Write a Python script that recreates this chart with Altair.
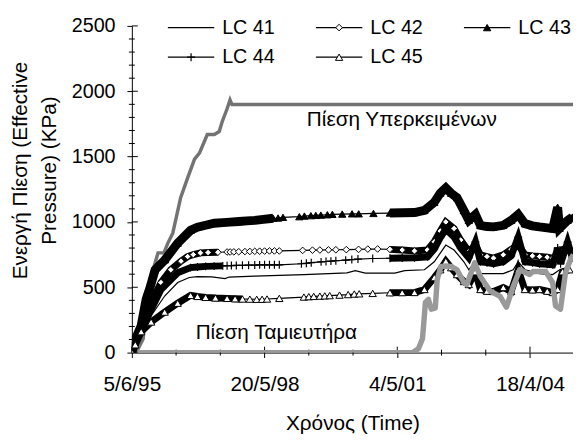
import altair as alt
import pandas as pd

FONT = "Liberation Sans"
W, H = 447, 331

# ---- axis ticks ----
x_tick_days = [0, 1080, 2160, 3240]
x_tick_labels = ["5/6/95", "20/5/98", "4/5/01", "18/4/04"]
x_minor_days = [360, 720, 1440, 1800, 2520, 2880]
y_ticks = [0, 500, 1000, 1500, 2000, 2500]
y_minor = [v for v in range(100, 2500, 100) if v % 500 != 0]

# ---- series (days since 5/6/95, KPa) ----
over_days = [36, 92, 132, 173, 213, 261, 293, 333, 397, 454, 510, 550, 614, 671, 711, 735, 775, 799, 815, 3600]
over_vals = [0, 106, 508, 634, 763, 763, 838, 914, 1186, 1337, 1480, 1526, 1669, 1669, 1692, 1767, 1866, 1934, 1898, 1898]

res_days = [50, 2240, 2285, 2332, 2365, 2381, 2389, 2413, 2437, 2469, 2485, 2515, 2598, 2646, 2702, 2726, 2790, 2836,
            2917, 2997, 3048, 3104, 3157, 3237, 3264, 3368, 3424, 3448, 3488, 3529, 3569, 3593]
res_vals = [0, 0, 0, 30, 106, 287, 385, 408, 332, 340, 559, 660, 660, 634, 536, 521, 687, 582,
            470, 430, 347, 508, 634, 597, 620, 620, 536, 357, 332, 612, 710, 750]

lc41_days = [0, 52, 157, 267, 373, 467, 534, 650, 759, 791, 1000, 1200, 1400, 1602, 1750, 1819, 1899, 2140, 2220, 2381,
             2461, 2555, 2622, 2702, 2742, 2796, 2836, 2943, 3023, 3103, 3144, 3200, 3318, 3425, 3481, 3562]
lc41_vals = [0, 68, 282, 433, 536, 575, 582, 580, 566, 578, 585, 591, 597, 604, 610, 627, 608, 608, 627, 634,
             695, 823, 785, 695, 634, 695, 604, 604, 604, 634, 695, 634, 604, 597, 634, 634]

lc42_days = [0, 52, 132, 237, 317, 400, 454, 500, 558, 620, 700, 775, 800, 830, 870, 920, 960, 1000, 1040, 1080, 1120,
             1160, 1200, 1390, 1470, 1530, 1600, 1660, 1745, 1845, 1920, 2000, 2100, 2200, 2300, 2405, 2461, 2510,
             2555, 2622, 2676, 2742, 2796, 2836, 2890, 2943, 3023, 3087, 3144, 3200, 3260, 3318, 3380, 3425, 3465,
             3479, 3559]
lc42_vals = [0, 144, 332, 536, 634, 700, 735, 750, 763, 766, 768, 770, 770, 771, 772, 773, 774, 775, 776, 777, 778,
             778, 778, 782, 784, 785, 786, 787, 788, 790, 792, 793, 790, 785, 778, 785, 848, 930,
             1000, 950, 861, 773, 823, 748, 735, 723, 748, 790, 823, 748, 740, 735, 730, 723, 740,
             785, 798]

lc43_days = [0, 28, 76, 116, 149, 189, 269, 373, 478, 534, 600, 671, 740, 799, 870, 935, 1000, 1070, 1150, 1190, 1230,
             1363, 1404, 1457, 1497, 1538, 1591, 1632, 1712, 1792, 1846, 1966, 2100, 2200, 2300, 2381, 2461, 2510,
             2555, 2598, 2646, 2702, 2742, 2796, 2836, 2890, 2943, 3023, 3087, 3144, 3198, 3260, 3318, 3380, 3425,
             3465, 3481, 3546, 3585]
lc43_vals = [0, 100, 206, 408, 500, 634, 710, 838, 936, 960, 975, 990, 995, 998, 1003, 1008, 1012, 1020, 1028, 1030, 1035,
             1040, 1045, 1048, 1050, 1052, 1055, 1058, 1060, 1062, 1062, 1065, 1068, 1070, 1072, 1088, 1150, 1220,
             1260, 1220, 1185, 1087, 1012, 1057, 974, 965, 962, 974, 1012, 1057, 987, 970, 962, 955, 949,
             1112, 952, 1012, 1037]

lc44_days = [0, 52, 132, 237, 373, 478, 534, 600, 670, 740, 775, 810, 850, 900, 950, 1000, 1040, 1080, 1120, 1160, 1200,
             1380, 1420, 1460, 1540, 1580, 1620, 1660, 1740, 1790, 1840, 1960, 2100, 2200, 2300, 2405, 2461, 2510,
             2555, 2622, 2676, 2742, 2796, 2836, 2890, 2943, 3023, 3087, 3144, 3200, 3260, 3318, 3380, 3425, 3465,
             3489, 3546, 3585]
lc44_vals = [0, 120, 282, 483, 611, 650, 655, 660, 662, 664, 665, 666, 667, 668, 669, 670, 671, 672, 672, 672, 672,
             680, 684, 688, 694, 697, 700, 703, 708, 712, 716, 720, 722, 724, 725, 733, 793, 880,
             944, 884, 800, 725, 848, 695, 688, 680, 695, 740, 884, 695, 688, 680, 676, 672, 800,
             680, 846, 725]

lc45_days = [0, 28, 76, 157, 267, 373, 478, 534, 600, 680, 775, 840, 900, 960, 1016, 1060, 1100, 1200, 1400, 1440, 1480,
             1530, 1570, 1610, 1690, 1760, 1810, 1850, 1960, 2100, 2200, 2300, 2381, 2461, 2510, 2555, 2598, 2646,
             2702, 2742, 2796, 2836, 2890, 2943, 3023, 3087, 3144, 3198, 3260, 3318, 3380, 3425, 3465, 3505, 3562]
lc45_vals = [0, 60, 160, 234, 310, 378, 438, 430, 423, 418, 415, 412, 410, 409, 408, 408, 410, 415, 425, 428, 430,
             432, 434, 436, 440, 444, 448, 450, 453, 458, 459, 460, 483, 574, 634, 700, 650, 597,
             544, 521, 619, 483, 470, 468, 498, 468, 634, 483, 480, 483, 470, 460, 483, 619, 634]

legend_names = ["LC 41", "LC 42", "LC 43", "LC 44", "LC 45"]
label_over = "Πίεση Υπερκειμένων"
label_res = "Πίεση Ταμιευτήρα"

# ---- helpers ----
def frame(days, vals):
    return pd.DataFrame({"day": days, "val": vals})

label_expr = "[" + ",".join("'%s'" % s for s in x_tick_labels) + "][indexof([" + \
    ",".join(str(d) for d in x_tick_days) + "], datum.value)]"

xscale = alt.Scale(domain=[0, 3590], nice=False, zero=False)
yscale = alt.Scale(domain=[0, 2500], nice=False)

x_axis = alt.Axis(values=x_tick_days, labelExpr=label_expr, title="Χρόνος (Time)", grid=False,
                  tickSize=5, tickColor="black", domainColor="black", labelColor="black", titleColor="black",
                  labelFont=FONT, titleFont=FONT, labelFontSize=21, titleFontSize=21, titleFontWeight="normal",
                  labelPadding=16, titleBaseline="alphabetic", titleY=77.5, labelFlush=False, labelOverlap=False)
y_axis = alt.Axis(values=y_ticks, format="d", title=["Ενεργή Πίεση (Effective", "Pressure) (KPa)"], grid=False,
                  tickSize=5, tickColor="black", domainColor="black", labelColor="black", titleColor="black",
                  labelFont=FONT, titleFont=FONT, labelFontSize=20, titleFontSize=21, titleFontWeight="normal",
                  labelPadding=12, titleLineHeight=30, titleX=-103, titleY=146, titleBaseline="bottom",
                  titleAlign="center", titleAngle=270, labelFlush=False)

X = alt.X("day:Q", scale=xscale, axis=x_axis)
Y = alt.Y("val:Q", scale=yscale, axis=y_axis)

layers = []

# tick marks crossing the axes
layers.append(alt.Chart(pd.DataFrame({"day": x_tick_days})).mark_rule(color="black").encode(
    x=X, y=alt.value(H - 6), y2=alt.value(H)))
layers.append(alt.Chart(pd.DataFrame({"day": x_minor_days})).mark_rule(color="black").encode(
    x=X, y=alt.value(H - 3), y2=alt.value(H + 3)))
layers.append(alt.Chart(pd.DataFrame({"val": y_ticks})).mark_rule(color="black").encode(
    y=Y, x=alt.value(0), x2=alt.value(6)))
layers.append(alt.Chart(pd.DataFrame({"val": y_minor})).mark_rule(color="black").encode(
    y=Y, x=alt.value(-3), x2=alt.value(3)))

# overburden pressure line
layers.append(alt.Chart(frame(over_days, over_vals)).mark_line(color="#737373", strokeWidth=3.5, clip=True).encode(x=X, y=Y))

PLUS = "M-1,0H1M0,-1V1"
series = [
    (frame(lc41_days, lc41_vals), 0, [], None),
    (frame(lc42_days, lc42_vals), 7, [(0, 760), (2100, 4000)],
     dict(shape="diamond", filled=True, fill="white", stroke="black", strokeWidth=1, size=45)),
    (frame(lc43_days, lc43_vals), 9, [(0, 1150), (2100, 4000)],
     dict(shape="triangle-up", filled=True, fill="black", stroke="black", strokeWidth=1, size=55)),
    (frame(lc44_days, lc44_vals), 7, [(0, 760), (2100, 4000)],
     dict(shape=PLUS, filled=False, stroke="black", strokeWidth=1.2, size=64)),
    (frame(lc45_days, lc45_vals), 7, [(0, 900), (2100, 4000)],
     dict(shape="triangle-up", filled=True, fill="white", stroke="black", strokeWidth=1, size=55)),
]

for df, bw, ranges, mk in series:
    base = alt.Chart(df)
    layers.append(base.mark_line(color="black", strokeWidth=1.2, clip=True).encode(x=X, y=Y))
    for a, b in ranges:
        layers.append(base.transform_filter((alt.datum.day >= a) & (alt.datum.day <= b))
                      .mark_line(color="black", strokeWidth=bw, clip=True).encode(x=X, y=Y))
    if mk:
        layers.append(base.mark_point(opacity=1, clip=True, **mk).encode(x=X, y=Y))

# reservoir pressure line (drawn over the load-cell series)
layers.append(alt.Chart(frame(res_days, res_vals)).mark_line(color="#999999", strokeWidth=5.5, clip=True,
                                                             strokeJoin="round").encode(x=X, y=Y))

# annotations
ann = pd.DataFrame({"day": [2197, 1176], "val": [1733, 104], "txt": [label_over, label_res]})
layers.append(alt.Chart(ann).mark_text(font=FONT, fontSize=21, color="black", align="center",
                                       baseline="alphabetic").encode(x=X, y=Y, text="txt:N"))

# legend (manual, Excel style)
leg = pd.DataFrame({"name": legend_names, "idx": list(range(len(legend_names)))})
legb = alt.Chart(leg).transform_calculate(
    col="datum.idx % 3", row="floor(datum.idx / 3)").transform_calculate(
    lx1="36.5 + datum.col * 150", lx2="83.5 + datum.col * 150", lm="60 + datum.col * 150",
    lt="91.5 + datum.col * 150", ly="1.7 + datum.row * 30")
LX1 = alt.X("lx1:Q", scale=None, axis=None)
LY = alt.Y("ly:Q", scale=None, axis=None)
layers.append(legb.mark_rule(color="black", strokeWidth=1.2).encode(x=LX1, x2="lx2:Q", y=LY))
for (df, bw, ranges, mk), nm in zip(series, legend_names):
    if mk:
        layers.append(legb.transform_filter(alt.datum.name == nm).mark_point(opacity=1, **mk).encode(
            x=alt.X("lm:Q", scale=None, axis=None), y=LY))
layers.append(legb.mark_text(font=FONT, fontSize=20, color="black", align="left", baseline="middle").encode(
    x=alt.X("lt:Q", scale=None, axis=None), y=LY, text="name:N"))

chart = alt.layer(*layers).properties(
    width=W, height=H,
    autosize=alt.AutoSizeParams(type="none"),
    padding={"left": 125.5, "top": 15.3, "right": 0, "bottom": 86},
    background="white",
).configure_view(stroke=None)

chart.save("out.html", embed_options={"renderer": "svg", "actions": False})
